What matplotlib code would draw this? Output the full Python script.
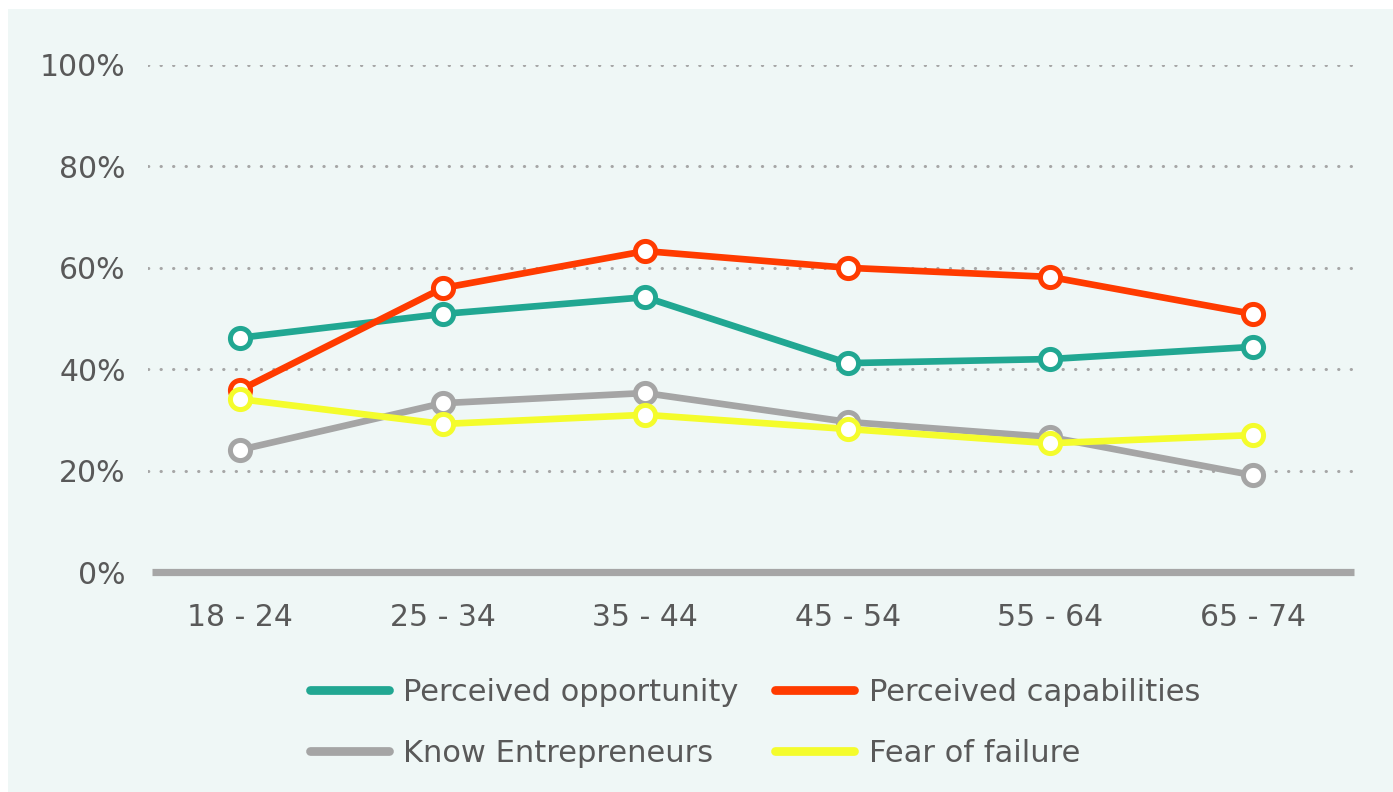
import matplotlib
matplotlib.use("Agg")
import matplotlib.pyplot as plt
from matplotlib.patches import Rectangle
from matplotlib.lines import Line2D

categories = ["18 - 24", "25 - 34", "35 - 44", "45 - 54", "55 - 64", "65 - 74"]
perceived_opportunity = [46.2, 50.9, 54.2, 41.2, 42.0, 44.4]
perceived_capabilities = [35.9, 56.0, 63.3, 60.0, 58.2, 50.9]
know_entrepreneurs = [24.1, 33.3, 35.3, 29.6, 26.6, 19.1]
fear_of_failure = [34.1, 29.2, 31.0, 28.2, 25.4, 27.0]
y_ticks = [0, 20, 40, 60, 80, 100]
y_tick_labels = ["0%", "20%", "40%", "60%", "80%", "100%"]

series = [
    ("Perceived opportunity", perceived_opportunity, "#21A792"),
    ("Perceived capabilities", perceived_capabilities, "#FF3B00"),
    ("Know Entrepreneurs", know_entrepreneurs, "#A5A5A5"),
    ("Fear of failure", fear_of_failure, "#F4FC2C"),
]

BG = "#EFF7F6"
TXT = "#595959"
plt.rcParams['font.family'] = ['DejaVu Sans']

fig = plt.figure(figsize=(13.93, 7.92), dpi=100, facecolor="white")
fig.patches.append(Rectangle((8/1393, 0), 1 - 8/1393, 1 - 9/792,
                             transform=fig.transFigure, facecolor=BG,
                             edgecolor="none", zorder=-10))

ax = fig.add_axes([148/1393, 1 - 572/792, (1354 - 148)/1393, (572 - 65)/792])
ax.set_facecolor("none")
x = list(range(len(categories)))
ax.set_xlim(-0.455, 5.5)
ax.set_ylim(0, 100)

for yv in y_ticks[1:]:
    ax.axhline(yv, color="#A6A6A6", lw=2.2, ls=(0, (0.1, 4.0)),
               dash_capstyle="round", zorder=1)
ax.plot([-0.435, 5.5], [0, 0], color="#A6A6A6", lw=5.2, solid_capstyle="butt",
        zorder=2, clip_on=False)

for i, (name, vals, col) in enumerate(series):
    ax.plot(x, vals, color=col, lw=4.8, marker="o", markersize=14.5,
            markerfacecolor="white", markeredgecolor=col, markeredgewidth=3.6,
            solid_capstyle="round", zorder=3 + i, clip_on=False)

for s in ax.spines.values():
    s.set_visible(False)
ax.set_yticks(y_ticks)
ax.set_yticklabels(y_tick_labels)
ax.set_xticks(x)
ax.set_xticklabels(categories)
ax.tick_params(axis="both", length=0, colors=TXT, labelsize=21.5)
ax.tick_params(axis="y", pad=16)
ax.tick_params(axis="x", pad=22)

handles = {name: Line2D([], [], color=col, lw=6.3, solid_capstyle="round")
           for name, vals, col in series}
order = ["Perceived opportunity", "Know Entrepreneurs",
         "Perceived capabilities", "Fear of failure"]
leg = fig.legend([handles[n] for n in order], order, ncol=2,
                 loc="center left", bbox_to_anchor=(282/1393, 1 - 723/792),
                 frameon=False, fontsize=22, labelcolor=TXT,
                 handlelength=2.6, handletextpad=0.46, columnspacing=1.2,
                 labelspacing=1.05)

fig.savefig("out.png", dpi=100, facecolor="white")
